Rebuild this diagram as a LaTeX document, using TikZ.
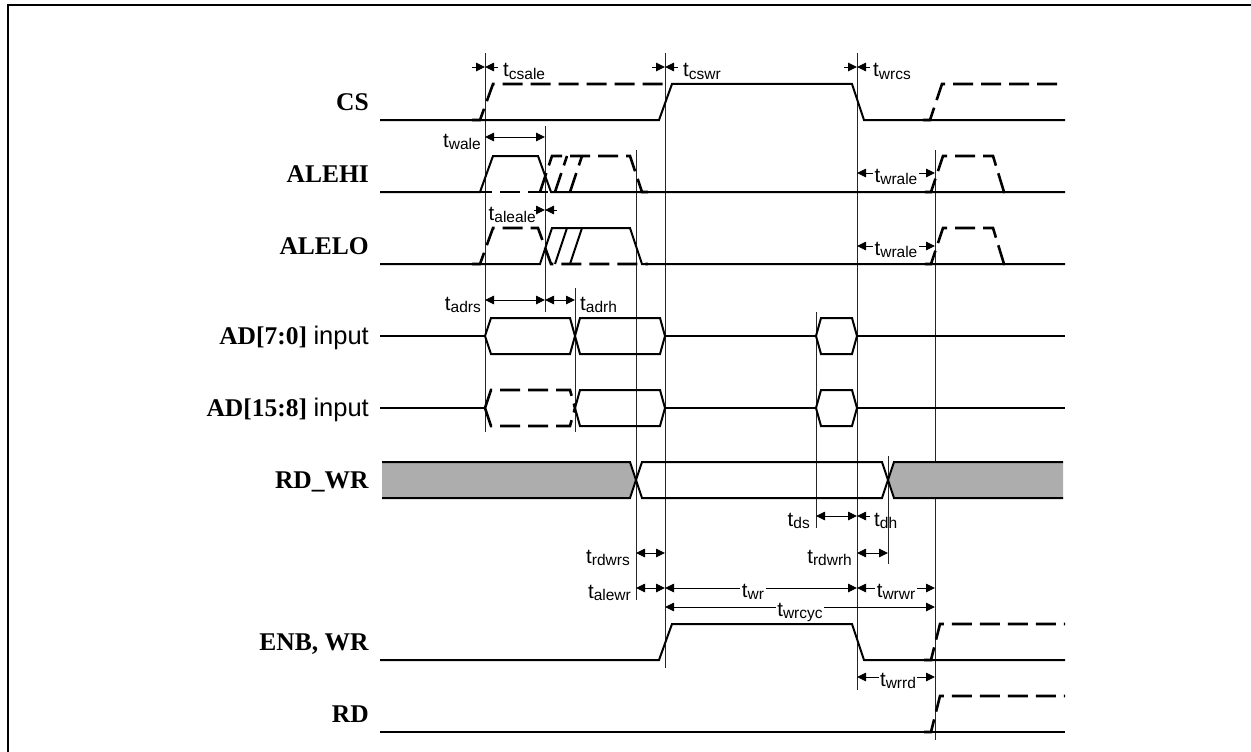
\documentclass[tikz,border=0pt]{standalone}
\usepackage{fontspec}
\setmainfont{Liberation Serif}
\newfontfamily\arialf{Liberation Sans}
\usetikzlibrary{arrows.meta}
\newcommand\tsub[1]{{\arialf\fontsize{20.5}{22}\selectfont t\raisebox{-2.5pt}{\fontsize{15.5}{16}\selectfont #1}}}
\begin{document}
\begin{tikzpicture}[x=1pt,y=-1pt,
  sig/.style={line width=2pt, line join=miter},
  dsig/.style={line width=2.6pt, dash pattern=on 20pt off 8pt},
  refl/.style={line width=0.9pt, draw=black!85},
  dimarr/.style={line width=0.9pt, {Triangle[length=9pt,width=8.5pt]}-{Triangle[length=9pt,width=8.5pt]}},
  onearr/.style={line width=0.9pt, -{Triangle[length=9pt,width=8.5pt]}},
  tl/.style={inner sep=0pt},
  tlw/.style={inner sep=1.5pt, fill=white, anchor=base},
  siglab/.style={anchor=base east, inner sep=0pt, font=\fontsize{25.5}{28}\selectfont},
  hatch/.style={fill=black!32}]
\useasboundingbox (0,0) rectangle (1251,752);
% frame
\draw[line width=2.5pt] (8,752) -- (8,5) -- (1251,5);

% signal labels
\node[siglab] (lCS)    at (369,110.5) {\textbf{CS}};
\node[siglab] (lALEHI) at (369,182.5) {\textbf{ALEHI}};
\node[siglab] (lALELO) at (369,254.5) {\textbf{ALELO}};
\node[siglab] (lAD7)   at (369,344.5) {\textbf{AD[7:0]} {\arialf input}};
\node[siglab] (lAD15)  at (369,416.5) {\textbf{AD[15:8]} {\arialf input}};
\node[siglab] (lRDWR)  at (369,488.5) {\textbf{RD\_WR}};
\node[siglab] (lENB)   at (369,650.5) {\textbf{ENB, WR}};
\node[siglab] (lRD)    at (369,722.5) {\textbf{RD}};

% reference lines
\draw[refl] (485,53) -- (485,432);
\draw[refl] (545,126) -- (545,312);
\draw[refl] (575,288) -- (575,432);
\draw[refl] (636,150) -- (636,600);
\draw[refl] (665,53) -- (665,668);
\draw[refl] (816,312) -- (816,528);
\draw[refl] (857,53) -- (857,690);
\draw[refl] (888,456) -- (888,564);
\draw[refl] (935,150) -- (935,740);

% CS
\draw[sig] (380,120) -- (659,120) -- (672,84) -- (852,84) -- (864,120) -- (1065,120);
\draw[dsig] (472,120) -- (480,120) -- (493,84) -- (665,84);
\draw[dsig] (923,120) -- (930,120) -- (942,84) -- (1065,84);

% ALEHI
\draw[sig] (380,192) -- (480,192) -- (493,156) -- (538,156) -- (551,192) -- (1065,192);
\draw[dsig] (472,192) -- (550,192);
\draw[dsig] (540,192) -- (552,156) -- (630,156) -- (642,192) -- (650,192);
\draw[dsig] (555,192) -- (567,156);
\draw[dsig] (570,192) -- (582,156);
\draw[dsig] (925,192) -- (931,192) -- (943,156) -- (993,156) -- (1004,192) -- (1010,192);

% ALELO
\draw[sig] (380,264) -- (540,264) -- (552,228) -- (630,228) -- (642,264) -- (1065,264);
\draw[sig] (555,264) -- (567,228);
\draw[sig] (570,264) -- (582,228);
\draw[dsig] (472,264) -- (480,264) -- (493,228) -- (538,228) -- (551,264) -- (648,264);
\draw[dsig] (925,264) -- (931,264) -- (943,228) -- (993,228) -- (1004,264) -- (1010,264);

% AD[7:0]
\draw[sig] (380,336) -- (485,336);
\draw[sig] (485,336) -- (491,318) -- (570,318) -- (575,336) -- (570,354) -- (491,354) -- cycle;
\draw[sig] (575,336) -- (580,318) -- (660,318) -- (665,336) -- (660,354) -- (580,354) -- cycle;
\draw[sig] (665,336) -- (816,336);
\draw[sig] (816,336) -- (821,318) -- (852,318) -- (857,336) -- (852,354) -- (821,354) -- cycle;
\draw[sig] (857,336) -- (1065,336);

% AD[15:8]
\draw[sig] (380,408) -- (485,408);
\draw[dsig] (485,408) -- (491,390) -- (570,390) -- (575,408);
\draw[dsig] (485,408) -- (491,426) -- (570,426) -- (575,408);
\draw[sig] (575,408) -- (580,390) -- (660,390) -- (665,408) -- (660,426) -- (580,426) -- cycle;
\draw[sig] (665,408) -- (816,408);
\draw[sig] (816,408) -- (821,390) -- (852,390) -- (857,408) -- (852,426) -- (821,426) -- cycle;
\draw[sig] (857,408) -- (1065,408);

% RD_WR
\fill[hatch] (382,462) -- (630,462) -- (636,480) -- (630,498) -- (382,498) -- cycle;
\fill[hatch] (1063,462) -- (894,462) -- (888,480) -- (894,498) -- (1063,498) -- cycle;
\draw[sig] (382,462) -- (630,462) -- (642,498) -- (882,498) -- (894,462) -- (1063,462);
\draw[sig] (382,498) -- (630,498) -- (642,462) -- (882,462) -- (894,498) -- (1063,498);

% ENB, WR
\draw[sig] (380,660) -- (659,660) -- (672,624) -- (852,624) -- (864,660) -- (1065,660);
\draw[dsig] (924,660) -- (931,660) -- (940,624) -- (1065,624);

% RD
\draw[sig] (380,732) -- (1065,732);
\draw[dsig] (924,732) -- (931,732) -- (940,696) -- (1065,696);

% timing arrows
\draw[onearr] (472,67) -- (485,67);
\draw[onearr] (498,67) -- (485,67);
\node[tl,anchor=base west] (ncsale) at (503,77) {\tsub{csale}};
\draw[onearr] (652,67) -- (665,67);
\draw[onearr] (678,67) -- (665,67);
\node[tl,anchor=base west] (ncswr) at (683,77) {\tsub{cswr}};
\draw[onearr] (844,67) -- (857,67);
\draw[onearr] (870,67) -- (857,67);
\node[tl,anchor=base west] (nwrcs) at (873,77) {\tsub{wrcs}};

\draw[dimarr] (485,137) -- (545,137);
\node[tl,anchor=base east] (nwale) at (481,147) {\tsub{wale}};
\draw[onearr] (534,210) -- (545,210);
\draw[onearr] (557,210) -- (545,210);
\node[tl,anchor=base east] (naleale) at (536,220) {\tsub{aleale}};

\draw[dimarr] (857,173) -- (935,173);
\node[tlw] (nwrale1) at (896,182) {\tsub{wrale}};
\draw[dimarr] (857,246) -- (935,246);
\node[tlw] (nwrale2) at (896,255) {\tsub{wrale}};

\draw[dimarr] (485,300) -- (545,300);
\node[tl,anchor=base east] (nadrs) at (481,310) {\tsub{adrs}};
\draw[dimarr] (545,300) -- (575,300);
\node[tl,anchor=base west] (nadrh) at (580,310) {\tsub{adrh}};

\draw[dimarr] (816,516) -- (857,516);
\node[tl,anchor=base east] (nds) at (810,526) {\tsub{ds}};
\draw[onearr] (870,516) -- (857,516);
\node[tl,anchor=base west] (ndh) at (874,526) {\tsub{dh}};

\draw[dimarr] (636,553) -- (665,553);
\node[tl,anchor=base east] (nrdwrs) at (630,563) {\tsub{rdwrs}};
\draw[dimarr] (857,553) -- (888,553);
\node[tl,anchor=base east] (nrdwrh) at (852,563) {\tsub{rdwrh}};

\draw[dimarr] (636,588) -- (665,588);
\node[tl,anchor=base east] (nalewr) at (631,598) {\tsub{alewr}};
\draw[dimarr] (665,588) -- (857,588);
\draw[dimarr] (857,588) -- (935,588);
\draw[dimarr] (665,607) -- (935,607);
\node[tlw] (nwr) at (753,597) {\tsub{wr}};
\node[tlw] (nwrwr) at (896,597) {\tsub{wrwr}};
\node[tlw] (nwrcyc) at (800,616) {\tsub{wrcyc}};

\draw[dimarr] (857,677) -- (935,677);
\node[tlw] (nwrrd) at (898,686) {\tsub{wrrd}};
\end{tikzpicture}
\end{document}
